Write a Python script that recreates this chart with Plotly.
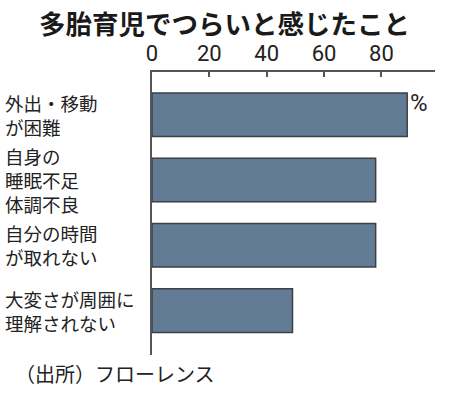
import plotly.graph_objects as go

title = "多胎育児でつらいと感じたこと"
categories = ["外出・移動<br>が困難", "自身の<br>睡眠不足<br>体調不良", "自分の時間<br>が取れない", "大変さが周囲に<br>理解されない"]
values = [89, 78, 78, 49]
tick_vals = [0, 20, 40, 60, 80]
source = "（出所）フローレンス"
unit = "%"

FONT = "Noto Sans CJK JP"
NUMFONT = "Liberation Sans Narrow, Roboto, Noto Sans CJK JP"
W, H = 450, 395
ml, mr, mt, mb = 152, 15, 72, 40
pw = W - ml - mr
ph = H - mt - mb
ypos = list(range(len(categories)))

fig = go.Figure()
fig.add_trace(go.Bar(
    x=values, y=ypos, orientation="h", width=0.667,
    marker=dict(color="#627c96", line=dict(color="#3c3f44", width=1.5)),
    hoverinfo="skip",
))

ann = []
for yi, c in zip(ypos, categories):
    ann.append(dict(x=(3 - ml) / pw, xref="paper", y=yi, yref="y", text=c, showarrow=False,
                    xanchor="left", yanchor="middle", align="left",
                    font=dict(family=FONT, size=18.5, color="#222")))

ann.append(dict(x=values[0], xref="x", y=ypos[0], yref="y", text=unit, showarrow=False,
                xanchor="left", yanchor="middle", xshift=1, yshift=12,
                font=dict(family=NUMFONT, size=24, color="#222")))
ann.append(dict(x=(13 - ml) / pw, xref="paper", y=-(373 - (H - mb)) / ph, yref="paper",
                text=source, showarrow=False, xanchor="left", yanchor="middle",
                font=dict(family=FONT, size=20, color="#222")))
# title as a top-anchored annotation so it stays inside the page
ann.append(dict(x=(224 - ml) / pw, xref="paper", y=1 + (mt - 1) / ph, yref="paper",
                text="<b>" + title + "</b>", showarrow=False, xanchor="center", yanchor="top",
                font=dict(family=FONT, size=26.5, color="#1a1a1a")))

fig.update_layout(
    width=W, height=H,
    margin=dict(l=ml, r=mr, t=mt, b=mb),
    paper_bgcolor="white", plot_bgcolor="white",
    showlegend=False,
    annotations=ann,
    xaxis=dict(side="top", range=[0, 98.7], tickvals=tick_vals, showgrid=False, zeroline=False,
               showline=True, linecolor="#555", linewidth=1.5, ticks="inside", ticklen=5,
               tickcolor="#555", tickwidth=1.5,
               tickfont=dict(family=NUMFONT, size=22, color="#222"), fixedrange=True),
    yaxis=dict(range=[3.68, -0.655], showticklabels=False, showgrid=False, zeroline=False,
               showline=True, linecolor="#555", linewidth=1.5, ticks="", fixedrange=True),
)
fig.write_html("out.html", config={"displayModeBar": False},
               post_script="document.body.style.margin='0';document.body.style.overflow='hidden';")
